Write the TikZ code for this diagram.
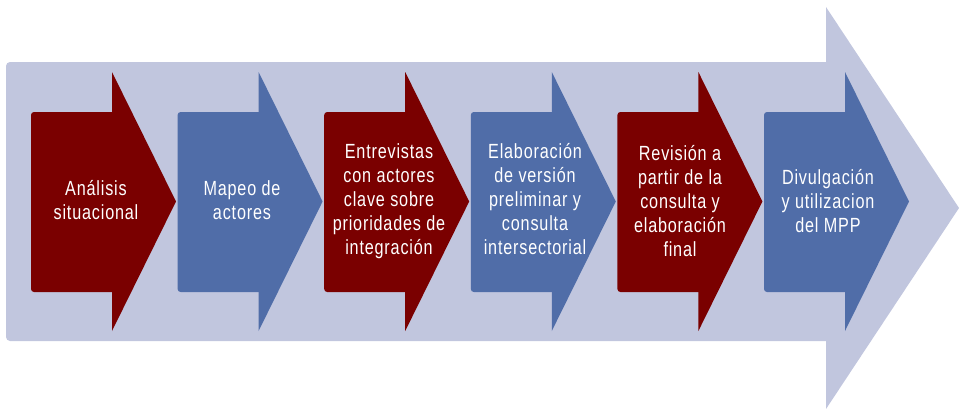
\documentclass[tikz,border=0pt]{standalone}
\usepackage{fontspec}
\newfontfamily\arrfont{Liberation Sans}[FakeStretch=0.79,LetterSpace=4]
\definecolor{bgarrow}{HTML}{C1C6DE}
\definecolor{stepred}{HTML}{7A0000}
\definecolor{stepblue}{HTML}{506DA8}
\begin{document}
\begin{tikzpicture}[x=1pt,y=-1pt,
  txt/.style={text=white, align=center, font=\arrfont\fontsize{20.5}{24}\selectfont, inner sep=0pt}]
\useasboundingbox (0,0) rectangle (959,408);
% background arrow
\fill[bgarrow, rounded corners=4pt] (6,62) rectangle (845,341);
\fill[bgarrow] (826,7) -- (959,208) -- (826,409) -- cycle;
% step arrows
\foreach \L/\c in {31/stepred,177.6/stepblue,324.2/stepred,470.8/stepblue,617.4/stepred,764/stepblue}{
  \fill[\c, rounded corners=3pt] (\L,112) rectangle ({\L+90},292);
  \fill[\c] ({\L+81},72) -- ({\L+145},201.5) -- ({\L+81},331) -- cycle;
}
\node[txt] (s1) at (96,200) {Análisis\\situacional};
\node[txt] (s2) at (242,200) {Mapeo de\\actores};
\node[txt] (s3) at (389,201) {Entrevistas\\con actores\\clave sobre\\prioridades de\\integración};
\node[txt] (s4) at (535,199) {Elaboración\\de versión\\preliminar y\\consulta\\intersectorial};
\node[txt] (s5) at (680,201) {Revisión a\\partir de la\\consulta y\\elaboración\\final};
\node[txt] (s6) at (828,201) {Divulgación\\y utilizacion\\del MPP};
\end{tikzpicture}
\end{document}
